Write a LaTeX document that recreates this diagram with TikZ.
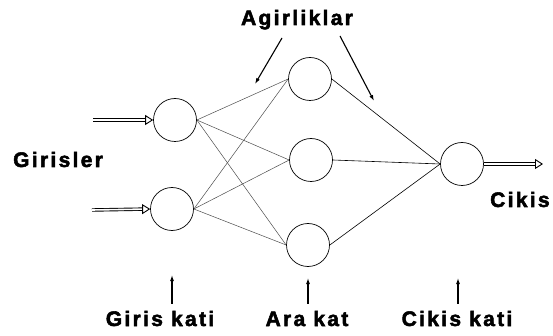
\documentclass[tikz,border=0pt]{standalone}
\usepackage{fontspec}
\setmainfont{Liberation Sans}
\newfontfamily\etiketfont[LetterSpace=11, FakeBold=2.5]{Liberation Sans Bold}
\usepackage{tikz}
\usetikzlibrary{calc, arrows.meta, positioning}

\tikzset{
    noron/.style={circle, draw, line width=0.7pt, minimum size=43pt, inner sep=0pt},
    etiket/.style={font=\etiketfont\fontsize{21}{24}\selectfont, inner sep=0pt, anchor=base},
    baglanti/.style={line width=0.5pt, black!70},
    okucu/.style={line width=1.1pt, -{Latex[length=6pt,width=4pt]}},
    bosok/.style={double, double distance=1.6pt, line width=0.9pt, -{Triangle[open,length=8pt,width=10pt]}}
}

\begin{document}
\begin{tikzpicture}[x=1pt, y=-1pt]
    \useasboundingbox (0,0) rectangle (553,336);

    % Noronlar
    \node[noron] (g1) at (175,120) {};
    \node[noron] (g2) at (172,209) {};
    \node[noron] (a1) at (310,79) {};
    \node[noron] (a2) at (311,160) {};
    \node[noron] (a3) at (308,245) {};
    \node[noron] (c) at (462,164) {};

    % Baglantilar
    \foreach \g in {g1,g2} {
        \foreach \a in {a1,a2,a3} {
            \draw[baglanti] (\g.east) -- (\a.west);
        }
    }
    \foreach \a in {a1,a2,a3} {
        \draw[line width=0.6pt] (\a.east) -- (c.west);
    }

    % Girisler ve cikis
    \coordinate (x1) at (93,120);
    \coordinate (x2) at (92,210);
    \coordinate (y) at (543,164);
    \draw[bosok] (x1) -- (g1.west);
    \draw[bosok] (x2) -- (g2.west);
    \draw[bosok] (c.east) -- (y);

    % Etiketler
    \node[etiket, anchor=base west] (gir) at (13,167) {Girisler};
    \node[etiket, anchor=base west] (cik) at (490,207) {Cikis};
    \node[etiket] (agr) at (297,25) {Agirliklar};
    \node[etiket] (gk) at (160,326) {Giris kati};
    \node[etiket] (ak) at (307,326) {Ara kat};
    \node[etiket] (ck) at (457,326) {Cikis kati};

    % Agirlik oklari
    \coordinate (w1) at (282,38);
    \coordinate (w2) at (255,84);
    \coordinate (w3) at (340,36);
    \coordinate (w4) at (374,101);
    \draw[okucu] (w1) -- (w2);
    \draw[okucu] (w3) -- (w4);

    % Katman oklari
    \coordinate (gu) at (172,275);
    \coordinate (au) at (308,278);
    \coordinate (cu) at (458,278);
    \draw[okucu, shorten <=7pt] (gu |- gk.north) -- (gu);
    \draw[okucu, shorten <=7pt] (au |- ak.north) -- (au);
    \draw[okucu, shorten <=7pt] (cu |- ck.north) -- (cu);
\end{tikzpicture}
\end{document}
